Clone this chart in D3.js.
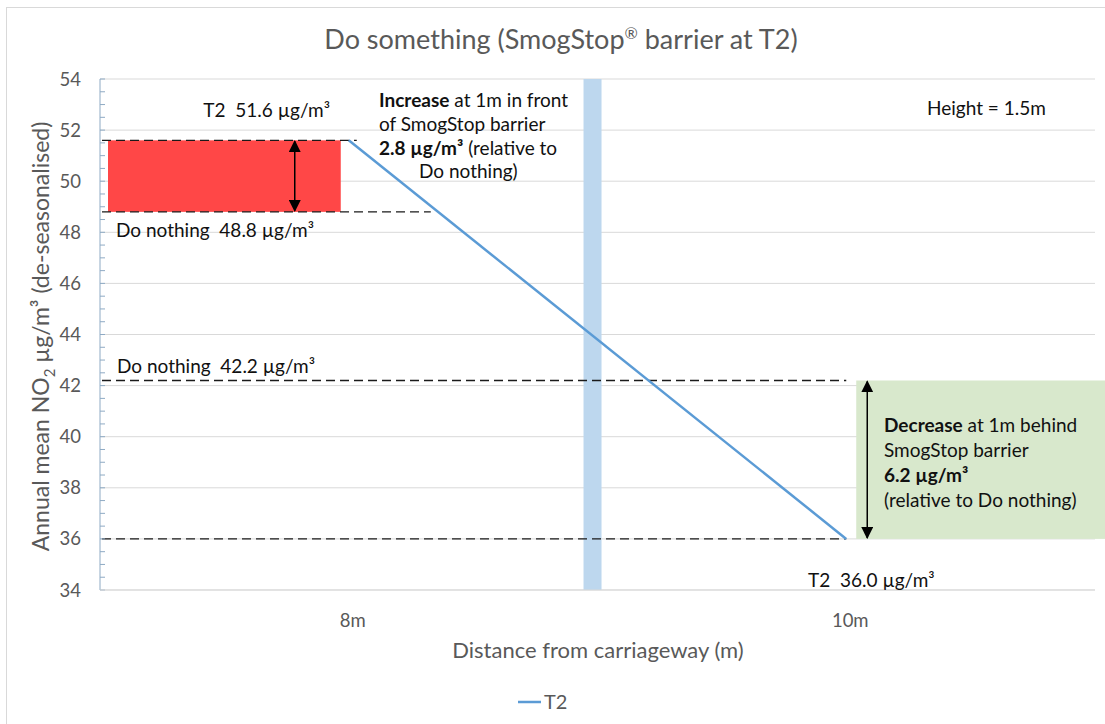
<!DOCTYPE html>
<html>
<head>
<meta charset="utf-8">
<script src="https://cdn.jsdelivr.net/npm/d3@7"></script>
<style>
  body { margin: 0; background: #fff; }
  svg { font-family: Lato, "Open Sans", sans-serif; }
  svg text { white-space: pre; }
</style>
</head>
<body>
<div id="chart"></div>
<script>
// Dados do gráfico
var categories = ['8m', '10m'];
var t2Values = [51.6, 36.0];
var doNothing = [48.8, 42.2];
var distances = [8, 10];
var barrierDistance = 8.98;
var yTicks = [34, 36, 38, 40, 42, 44, 46, 48, 50, 52, 54];
var seriesName = 'T2';

var width = 1105, height = 724;
var margin = { left: 100, right: 10, top: 79, bottom: 134 };
var grey = '#595959';
var blue = '#5b9bd5';
var fs = 19;

var svg = d3.select('#chart').append('svg')
  .attr('width', width)
  .attr('height', height);

// borda do gráfico
svg.append('rect')
  .attr('x', 6.5).attr('y', 7.5)
  .attr('width', width + 10).attr('height', height + 10)
  .attr('fill', 'none')
  .attr('stroke', '#d9d9d9');

var x = d3.scaleBand()
  .domain(categories)
  .range([margin.left, width - margin.right]);

var xCenter = function (c) { return x(c) + x.bandwidth() / 2; };

// escala linear em metros, para a barreira
var xDist = d3.scaleLinear()
  .domain(distances)
  .range([xCenter(categories[0]), xCenter(categories[1])]);

var y = d3.scaleLinear()
  .domain([34, 54])
  .range([height - margin.bottom, margin.top]);

var x0 = margin.left, x1 = width - margin.right;

// grade horizontal
svg.append('g').selectAll('line')
  .data(yTicks)
  .enter().append('line')
  .attr('x1', x0).attr('x2', x1)
  .attr('y1', function (d) { return y(d); })
  .attr('y2', function (d) { return y(d); })
  .attr('stroke', '#d9d9d9')
  .attr('stroke-width', 1);

// barreira
svg.append('rect')
  .attr('x', xDist(barrierDistance) - 9)
  .attr('y', y(54))
  .attr('width', 18)
  .attr('height', y(34) - y(54))
  .attr('fill', '#bdd7ee');

// retângulo vermelho (aumento)
svg.append('rect')
  .attr('x', x0 + 8)
  .attr('y', y(t2Values[0]))
  .attr('width', xCenter(categories[0]) - 8 - (x0 + 8))
  .attr('height', y(doNothing[0]) - y(t2Values[0]))
  .attr('fill', '#ff4747');

// retângulo verde (redução)
svg.append('rect')
  .attr('x', xCenter(categories[1]) + 10)
  .attr('y', y(doNothing[1]))
  .attr('width', width - xCenter(categories[1]))
  .attr('height', y(t2Values[1]) - y(doNothing[1]))
  .attr('fill', '#d8e8cc');

// linhas tracejadas
var dashes = [
  { v: t2Values[0], end: xCenter(categories[0]) + 8 },
  { v: doNothing[0], end: xCenter(categories[0]) + 82 },
  { v: doNothing[1], end: xCenter(categories[1]) },
  { v: t2Values[1], end: xCenter(categories[1]) }
];
svg.append('g').selectAll('line')
  .data(dashes)
  .enter().append('line')
  .attr('x1', x0 + 2).attr('x2', function (d) { return d.end; })
  .attr('y1', function (d) { return y(d.v); })
  .attr('y2', function (d) { return y(d.v); })
  .attr('stroke', '#1a1a1a')
  .attr('stroke-width', 1.3)
  .attr('stroke-dasharray', '9,5');

// eixo y
var yAxis = svg.append('g');
yAxis.append('line')
  .attr('x1', x0).attr('x2', x0)
  .attr('y1', y(54)).attr('y2', y(34))
  .attr('stroke', '#8eaac4').attr('stroke-width', 1);

yAxis.selectAll('.minor')
  .data(d3.range(34, 54.01, 0.5))
  .enter().append('line')
  .attr('x1', x0).attr('x2', x0 + 5)
  .attr('y1', function (d) { return y(d); })
  .attr('y2', function (d) { return y(d); })
  .attr('stroke', '#8eaac4');

yAxis.selectAll('text')
  .data(yTicks)
  .enter().append('text')
  .attr('x', 81)
  .attr('y', function (d) { return y(d) + 6.5; })
  .attr('text-anchor', 'end')
  .attr('font-size', 18.5)
  .attr('fill', grey)
  .text(function (d) { return d; });

// eixo x
svg.append('line')
  .attr('x1', x0).attr('x2', x1)
  .attr('y1', y(34)).attr('y2', y(34))
  .attr('stroke', '#d9d9d9');

svg.append('g').selectAll('text')
  .data(categories)
  .enter().append('text')
  .attr('x', function (d) { return xCenter(d) + 4; })
  .attr('y', 627)
  .attr('text-anchor', 'middle')
  .attr('font-size', 18.5)
  .attr('fill', grey)
  .text(function (d) { return d; });

// linha T2
var line = d3.line()
  .x(function (d, i) { return xCenter(categories[i]); })
  .y(function (d) { return y(d); });

svg.append('path')
  .datum(t2Values)
  .attr('d', line)
  .attr('fill', 'none')
  .attr('stroke', blue)
  .attr('stroke-width', 2.5);

// setas
var arrows = [
  { x: xCenter(categories[0]) - 54, a: t2Values[0], b: doNothing[0] },
  { x: xCenter(categories[1]) + 21, a: doNothing[1], b: t2Values[1] }
];
svg.append('defs').append('marker')
  .attr('id', 'head')
  .attr('viewBox', '0 0 10 10')
  .attr('refX', 9).attr('refY', 5)
  .attr('markerWidth', 12).attr('markerHeight', 12)
  .attr('markerUnits', 'userSpaceOnUse')
  .attr('orient', 'auto-start-reverse')
  .append('path')
  .attr('d', 'M0,0L10,5L0,10Z')
  .attr('fill', '#000');

svg.append('g').selectAll('line')
  .data(arrows)
  .enter().append('line')
  .attr('x1', function (d) { return d.x; })
  .attr('x2', function (d) { return d.x; })
  .attr('y1', function (d) { return y(d.a) + 1; })
  .attr('y2', function (d) { return y(d.b) - 1; })
  .attr('stroke', '#000')
  .attr('stroke-width', 1.5)
  .attr('marker-start', 'url(#head)')
  .attr('marker-end', 'url(#head)');

// textos das anotações
var addText = function (xp, yp, parts, anchor) {
  var t = svg.append('text')
    .attr('x', xp).attr('y', yp)
    .attr('font-size', fs)
    .attr('fill', '#111')
    .attr('text-anchor', anchor || 'start');
  parts.forEach(function (p) {
    t.append('tspan')
      .attr('font-weight', p.bold ? 'bold' : null)
      .text(p.s);
  });
  return t;
};

var unit = ' µg/m³';
addText(330, y(t2Values[0]) - 23, [{ s: 'T2  ' + t2Values[0].toFixed(1) + unit }], 'end');
addText(116, y(doNothing[0]) + 25, [{ s: 'Do nothing  ' + doNothing[0].toFixed(1) + unit }]);
addText(117, y(doNothing[1]) - 7, [{ s: 'Do nothing  ' + doNothing[1].toFixed(1) + unit }]);
addText(808, y(t2Values[1]) + 48, [{ s: 'T2  ' + t2Values[1].toFixed(1) + unit }]);
addText(927, 115, [{ s: 'Height = 1.5m' }]);

var inc = (t2Values[0] - doNothing[0]).toFixed(1);
addText(379, 107, [{ s: 'Increase', bold: true }, { s: ' at 1m in front' }]);
addText(379, 131, [{ s: 'of SmogStop barrier' }]);
addText(379, 155, [{ s: inc + ' µg/m³', bold: true }, { s: ' (relative to' }]);
addText(419, 178, [{ s: 'Do nothing)' }]);

var dec = (doNothing[1] - t2Values[1]).toFixed(1);
addText(884, 432, [{ s: 'Decrease', bold: true }, { s: ' at 1m behind' }]);
addText(884, 457, [{ s: 'SmogStop barrier' }]);
addText(884, 482, [{ s: dec + ' µg/m³', bold: true }]);
addText(884, 507, [{ s: '(relative to Do nothing)' }]);

// título
var title = svg.append('text')
  .attr('x', 561).attr('y', 49)
  .attr('text-anchor', 'middle')
  .attr('font-size', 27)
  .attr('fill', grey);
title.append('tspan').text('Do something (SmogStop');
title.append('tspan').attr('font-size', 16).attr('dy', -10).text('®');
title.append('tspan').attr('dy', 10).text(' barrier at T2)');

// títulos dos eixos
var yTitle = svg.append('text')
  .attr('transform', 'translate(49,' + (y(44) + 2) + ') rotate(-90)')
  .attr('text-anchor', 'middle')
  .attr('font-size', 23)
  .attr('fill', grey);
yTitle.append('tspan').text('Annual mean NO');
yTitle.append('tspan').attr('font-size', 15).attr('dy', 6).text('2');
yTitle.append('tspan').attr('dy', -6).text(' µg/m³ (de-seasonalised)');

svg.append('text')
  .attr('x', 598).attr('y', 658)
  .attr('text-anchor', 'middle')
  .attr('font-size', 22)
  .attr('fill', grey)
  .text('Distance from carriageway (m)');

// legenda
svg.append('line')
  .attr('x1', 518).attr('x2', 541)
  .attr('y1', 702).attr('y2', 702)
  .attr('stroke', blue).attr('stroke-width', 2.5);
svg.append('text')
  .attr('x', 544).attr('y', 709)
  .attr('font-size', 20)
  .attr('fill', grey)
  .text(seriesName);
</script>
</body>
</html>
